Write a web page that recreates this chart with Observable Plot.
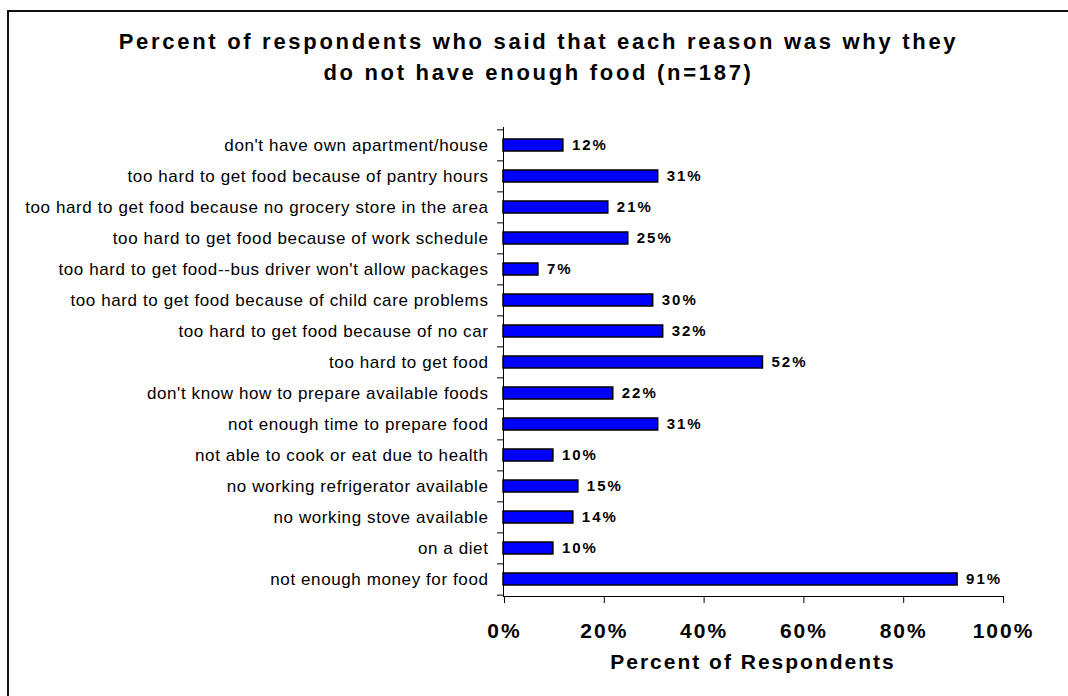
<!DOCTYPE html>
<html>
<head>
<meta charset="utf-8">
<script src="https://cdn.jsdelivr.net/npm/d3@7"></script>
<script src="https://cdn.jsdelivr.net/npm/@observablehq/plot@0.6"></script>
<style>
  html, body { margin: 0; padding: 0; background: #fff; }
  #page { position: relative; width: 1068px; height: 696px; overflow: hidden; background: #fff; font-family: "Liberation Sans", Arial, sans-serif; }
  #frame { position: absolute; left: 7px; top: 10px; width: 1200px; height: 800px; border-left: 2px solid #111; border-top: 2px solid #111; box-sizing: border-box; }
  #title { position: absolute; left: 0; top: 26px; width: 1077px; text-align: center; font-size: 22px; line-height: 31px; font-weight: bold; letter-spacing: 2.7px; color: #000; }
  #chart { position: absolute; left: 0; top: 0; }
</style>
</head>
<body>
<div id="page">
  <div id="frame"></div>
  <div id="title">Percent of respondents who said that each reason was why they<br>do not have enough food (n=187)</div>
  <div id="chart"></div>
</div>
<script>
const categories = [
  "don't have own apartment/house",
  "too hard to get food because of pantry hours",
  "too hard to get food because no grocery store in the area",
  "too hard to get food because of work schedule",
  "too hard to get food--bus driver won't allow packages",
  "too hard to get food because of child care problems",
  "too hard to get food because of no car",
  "too hard to get food",
  "don't know how to prepare available foods",
  "not enough time to prepare food",
  "not able to cook or eat due to health",
  "no working refrigerator available",
  "no working stove available",
  "on a diet",
  "not enough money for food"
];
const values = [12, 31, 21, 25, 7, 30, 32, 52, 22, 31, 10, 15, 14, 10, 91];
const xTicks = [0, 20, 40, 60, 80, 100];
const xLabel = "Percent of Respondents";

const data = categories.map((c, i) => ({cat: c, value: values[i]}));

const W = 1068, H = 696, mTop = 127, mBottom = 100, mLeft = 503, mRight = 66;
const step = (H - mTop - mBottom) / categories.length;

const svg = Plot.plot({
  width: W,
  height: H,
  marginLeft: mLeft,
  marginRight: mRight,
  marginTop: mTop,
  marginBottom: mBottom,
  style: {fontFamily: "'Liberation Sans', Arial, sans-serif", color: "#000", background: "transparent", overflow: "visible"},
  x: {domain: [0, 100], axis: null},
  y: {domain: categories, paddingInner: 0.62, paddingOuter: 0.31, axis: null},
  marks: [
    Plot.barX(data, {x: "value", y: "cat", fill: "#0000ff", stroke: "#000", strokeWidth: 1.5}),
    Plot.text(data, {x: "value", y: "cat", text: d => d.value + "%", dx: 8.5, textAnchor: "start", fontSize: 15, fontWeight: "bold", fill: "#000"}),
    Plot.ruleX([0], {stroke: "#000", strokeWidth: 1}),
    Plot.frame({anchor: "bottom", stroke: "#000", strokeWidth: 1}),
    Plot.axisY({tickSize: 6, tickFormat: null, label: null, dy: -step / 2, stroke: "#000"}),
    Plot.axisY({ticks: [categories[categories.length - 1]], tickSize: 6, tickFormat: null, label: null, dy: step / 2, stroke: "#000"}),
    Plot.axisY({tickSize: 0, tickPadding: 15, fontSize: 17, label: null, fill: "#000"}),
    Plot.axisX({ticks: xTicks, tickFormat: d => d + "%", tickSize: 7, tickPadding: 20, fontSize: 21, fontWeight: "bold", label: null, dx: 1, stroke: "#000", fill: "#000"}),
    Plot.text([xLabel], {x: () => 50, text: d => d, frameAnchor: "bottom", dy: 72, fontSize: 21, fontWeight: "bold", fill: "#000"})
  ]
});

// letter spacing tweaks
svg.querySelectorAll('g[aria-label="text"]').forEach(g => { g.style.letterSpacing = "2px"; });
svg.querySelectorAll('g[aria-label="x-axis tick label"]').forEach(g => g.style.letterSpacing = "2px");
svg.querySelectorAll('g[aria-label="y-axis tick label"]').forEach(g => g.style.letterSpacing = "0.6px");

document.getElementById("chart").appendChild(svg);
</script>
</body>
</html>
